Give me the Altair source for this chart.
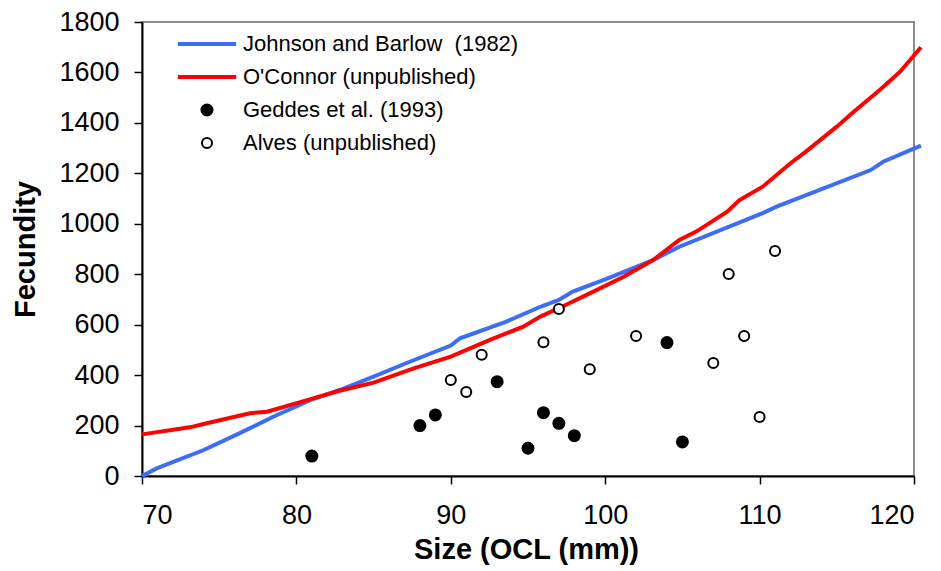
import altair as alt
import pandas as pd

series_names = ["Johnson and Barlow\u00a0 (1982)", "O'Connor (unpublished)",
                "Geddes et al. (1993)", "Alves (unpublished)"]

blue_x = [70, 70.95, 74, 76.3, 78.5, 80.9, 82.8, 85, 87.1, 90, 90.6, 93.6, 95.8, 97,
          97.9, 100, 103.1, 104.8, 110.2, 111.1, 117.2, 118, 120.45]
blue_y = [0, 30, 103, 169, 235, 301, 341, 394, 447, 517, 546, 612, 671, 698,
          731, 780, 856, 909, 1042, 1068, 1213, 1246, 1310]

red_x = [70, 73.1, 74.2, 77, 78.1, 80.7, 82.8, 85, 87.6, 90, 92.5, 94.7, 95.8, 97.3,
         99, 101.2, 103.1, 104.8, 105.9, 107.9, 108.7, 110.2, 112, 113, 115, 116.1,
         117.8, 119.1, 120.45]
red_y = [165, 193, 209, 249, 255, 301, 338, 370, 427, 473, 539, 592, 632, 674,
         724, 790, 856, 936, 969, 1048, 1094, 1147, 1240, 1286, 1385, 1444,
         1531, 1603, 1700]

geddes_x = [81, 88, 89, 93, 95, 96, 97, 98, 104, 105]
geddes_y = [79, 200, 242, 374, 110, 251, 209, 160, 529, 135]

alves_x = [90, 91, 92, 96, 97, 99, 102, 107, 108, 109, 110, 111]
alves_y = [381, 333, 481, 530, 662, 423, 555, 448, 801, 555, 234, 892]

x_ticks = [70, 80, 90, 100, 110, 120]
y_ticks = [0, 200, 400, 600, 800, 1000, 1200, 1400, 1600, 1800]

series_colors = ["#3D6DF5", "#FF0000", "#000000", "#000000"]
series_fills = ["#3D6DF5", "#FF0000", "#000000", "#FFFFFF"]
line_symbol = "M-4.6,-0.16H4.6V0.16H-4.6Z"
geddes_symbol = "M-0.9,0A0.9,0.9,0,1,1,0.9,0A0.9,0.9,0,1,1,-0.9,0Z"
alves_symbol = "M-0.82,0A0.82,0.82,0,1,1,0.82,0A0.82,0.82,0,1,1,-0.82,0Z"
series_shapes = [line_symbol, line_symbol, geddes_symbol, alves_symbol]

blue_df = pd.DataFrame({"size": blue_x, "fec": blue_y})
red_df = pd.DataFrame({"size": red_x, "fec": red_y})
points_df = pd.DataFrame({
    "size": geddes_x + alves_x,
    "fec": geddes_y + alves_y,
    "series": [series_names[2]] * len(geddes_x) + [series_names[3]] * len(alves_x),
})

FONT = "Liberation Sans"

xenc = alt.X("size:Q", scale=alt.Scale(domain=[70, 120], nice=False, zero=False),
             axis=alt.Axis(values=x_ticks, title="Size (OCL (mm))", titleX=384,
                           titleY=82, titleBaseline="alphabetic"))
yenc = alt.Y("fec:Q", scale=alt.Scale(domain=[0, 1800], nice=False),
             axis=alt.Axis(values=y_ticks, format="d", title="Fecundity", titleX=-108,
                           titleY=227, titleBaseline="alphabetic"))

blue_line = alt.Chart(blue_df).mark_line(
    clip=False, strokeWidth=4, color=series_colors[0]).encode(x=xenc, y=yenc)
red_line = alt.Chart(red_df).mark_line(
    clip=False, strokeWidth=4, color=series_colors[1]).encode(x=xenc, y=yenc)

points = alt.Chart(points_df).mark_point(opacity=1, size=150, strokeWidth=2).encode(
    x=xenc, y=yenc,
    stroke=alt.Stroke("series:N", title=None,
                      scale=alt.Scale(domain=series_names, range=series_colors)),
    fill=alt.Fill("series:N", title=None,
                  scale=alt.Scale(domain=series_names, range=series_fills)),
    shape=alt.Shape("series:N", title=None,
                    scale=alt.Scale(domain=series_names, range=series_shapes)),
)

chart = alt.layer(blue_line, red_line, points).properties(
    width=772, height=454,
    autosize=alt.AutoSizeParams(type="none"),
    padding={"left": 142, "top": 22, "right": 27, "bottom": 95},
    background="white",
).configure_view(
    stroke="#8C8C8C", strokeWidth=2,
).configure_axis(
    grid=False,
    domainColor="#000000", domainWidth=2,
    tickColor="#000000", tickWidth=1.5, tickSize=8,
    labelFont=FONT, labelFontSize=27, labelColor="#000000",
    titleFont=FONT, titleFontSize=29, titleFontWeight="bold", titleColor="#000000",
).configure_axisX(
    labelPadding=18,
).configure_axisY(
    labelPadding=15,
).configure_legend(
    orient="none", legendX=54, legendY=11,
    padding=0, labelFont=FONT, labelFontSize=22, labelColor="#000000",
    labelOffset=25, labelLimit=500, rowPadding=11, symbolOpacity=1,
    symbolSize=150, symbolStrokeWidth=2,
)

chart.save("out.html", embed_options={"renderer": "svg", "actions": False})
